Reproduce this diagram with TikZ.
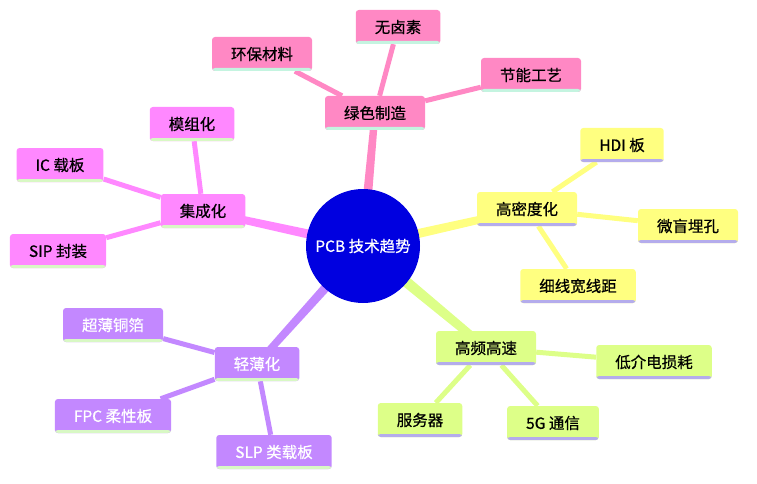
\documentclass[tikz,border=0pt]{standalone}
\usepackage{fontspec}
\setmainfont{Noto Sans CJK SC}[FakeBold=0.6]
\usepackage{tikz}
\usetikzlibrary{calc, backgrounds, positioning}

\definecolor{pinkA}{HTML}{FF88C4}
\definecolor{magA}{HTML}{FF88FF}
\definecolor{yelA}{HTML}{FFFF80}
\definecolor{greA}{HTML}{DDFF88}
\definecolor{purA}{HTML}{C388FF}
\definecolor{mint}{HTML}{C4F4E0}
\definecolor{lgreen}{HTML}{D8F8C4}
\definecolor{lav}{HTML}{B4ACEC}
\definecolor{hub}{HTML}{0000E0}

\tikzset{
  box/.style 2 args={rectangle, rounded corners=3pt, fill=#1, minimum height=34pt,
    inner xsep=19pt, inner ysep=0pt, font=\fontsize{15.5}{18}\selectfont,
    path picture={\fill[#2] ([yshift=3pt]path picture bounding box.south west)
      rectangle (path picture bounding box.south east);}},
  twig/.style={line width=5pt}
}

\begin{document}
\begin{tikzpicture}[x=1pt, y=-1pt]
		\useasboundingbox (0,0) rectangle (757,484);
		\node[circle, fill=hub, minimum size=114pt, inner sep=0pt, text=white,
		  font=\fontsize{15.5}{18}\selectfont] (pcb) at (363,246) {PCB 技术趋势};
		
		\node[box={pinkA}{mint}] (green) at (375,113) {绿色制造};
		\node[box={pinkA}{mint}] (halo) at (398,27) {无卤素};
		\node[box={pinkA}{mint}] (eco) at (262,54) {环保材料};
		\node[box={pinkA}{mint}] (save) at (531,75) {节能工艺};
		
		\node[box={magA}{lgreen}] (integ) at (203,211) {集成化};
		\node[box={magA}{lgreen}] (module) at (192,124) {模组化};
		\node[box={magA}{lgreen}] (ic) at (60,165) {IC 载板};
		\node[box={magA}{lgreen}] (sip) at (58,251) {SIP 封装};
		
		\node[box={yelA}{lav}] (dense) at (527,209) {高密度化};
		\node[box={yelA}{lav}] (hdi) at (622,145) {HDI 板};
		\node[box={yelA}{lav}] (via) at (688,226) {微盲埋孔};
		\node[box={yelA}{lav}] (fine) at (578,286) {细线宽线距};
		
		\node[box={greA}{lav}] (fast) at (486,348) {高频高速};
		\node[box={greA}{lav}] (lowk) at (654,362) {低介电损耗};
		\node[box={greA}{lav}] (server) at (420,420) {服务器};
		\node[box={greA}{lav}] (fiveg) at (553,423) {5G 通信};
		
		\node[box={purA}{lgreen}, text=white] (thin) at (257,364) {轻薄化};
		\node[box={purA}{lgreen}, text=white] (foil) at (113,325) {超薄铜箔};
		\node[box={purA}{lgreen}, text=white] (fpc) at (113,416) {FPC 柔性板};
		\node[box={purA}{lgreen}, text=white] (slp) at (274,452) {SLP 类载板};
		
		\begin{scope}[on background layer]
		% main branches, tapered
		\fill[pinkA] ($(pcb)!5pt!90:(green)$) -- ($(green)!3.5pt!-90:(pcb)$) -- ($(green)!3.5pt!90:(pcb)$) -- ($(pcb)!5pt!-90:(green)$) -- cycle;
		\fill[magA] ($(pcb)!5pt!90:(integ)$) -- ($(integ)!3.5pt!-90:(pcb)$) -- ($(integ)!3.5pt!90:(pcb)$) -- ($(pcb)!5pt!-90:(integ)$) -- cycle;
		\fill[yelA] ($(pcb)!5pt!90:(dense)$) -- ($(dense)!3.5pt!-90:(pcb)$) -- ($(dense)!3.5pt!90:(pcb)$) -- ($(pcb)!5pt!-90:(dense)$) -- cycle;
		\fill[greA] ($(pcb)!6pt!90:(fast)$) -- ($(fast)!4pt!-90:(pcb)$) -- ($(fast)!4pt!90:(pcb)$) -- ($(pcb)!6pt!-90:(fast)$) -- cycle;
		\fill[purA] ($(pcb)!5pt!90:(thin)$) -- ($(thin)!3.5pt!-90:(pcb)$) -- ($(thin)!3.5pt!90:(pcb)$) -- ($(pcb)!5pt!-90:(thin)$) -- cycle;
		% twigs
		\draw[twig, pinkA] (green) -- (halo); \draw[twig, pinkA] (green) -- (eco); \draw[twig, pinkA] (green) -- (save);
		\draw[twig, magA] (integ) -- (module); \draw[twig, magA] (integ) -- (ic); \draw[twig, magA] (integ) -- (sip);
		\draw[twig, yelA] (dense) -- (hdi); \draw[twig, yelA] (dense) -- (via); \draw[twig, yelA] (dense) -- (fine);
		\draw[twig, greA] (fast) -- (lowk); \draw[twig, greA] (fast) -- (server); \draw[twig, greA] (fast) -- (fiveg);
		\draw[twig, purA] (thin) -- (foil); \draw[twig, purA] (thin) -- (fpc); \draw[twig, purA] (thin) -- (slp);
		\end{scope}
		\end{tikzpicture}
\end{document}
